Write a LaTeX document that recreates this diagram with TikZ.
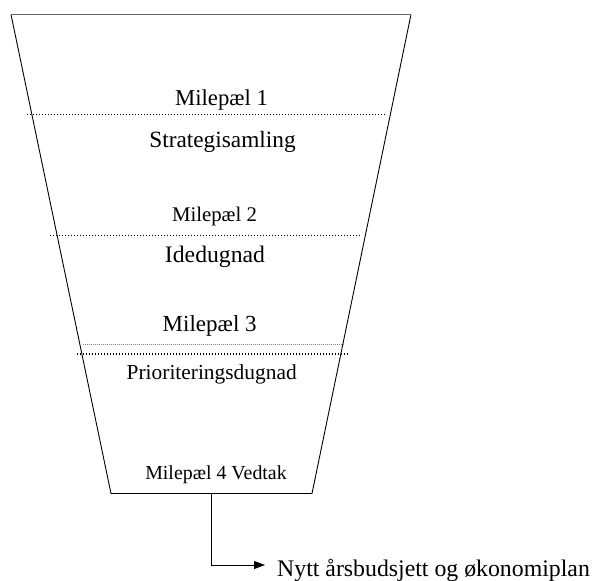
\documentclass[tikz,border=0pt]{standalone}
\usepackage{fontspec}
\setmainfont{Liberation Serif}
\usetikzlibrary{arrows.meta}
\tikzset{
  funnel/.style={line width=0.9pt, black},
  toprim/.style={line width=1.4pt, black!60},
  dotline/.style={line width=1.3pt, dash pattern=on 1.2pt off 1.8pt, black},
  finedot/.style={line width=0.6pt, dash pattern=on 0.8pt off 1.2pt, black!50},
  lbl/.style={anchor=base, inner sep=0pt},
  conn/.style={line width=0.9pt, -{Triangle[length=11pt,width=8pt]}}
}
\newcommand{\fs}[1]{\fontsize{#1}{#1}\selectfont}
\begin{document}
\begin{tikzpicture}[x=1pt,y=-1pt]
\useasboundingbox (0,0) rectangle (595,581);
% funnel corners
\coordinate (tl) at (11,14.5);
\coordinate (tr) at (411,14.5);
\coordinate (bl) at (111,493.5);
\coordinate (br) at (312,493.5);
\draw[funnel] (tr) -- (br) -- (bl) -- (tl);
\draw[toprim] (tl) -- (tr);
% dotted separators
\coordinate (d1a) at (27,114.5);   \coordinate (d1b) at (386,114.5);
\coordinate (d2a) at (50,235.7);   \coordinate (d2b) at (361.7,235.7);
\coordinate (d3a) at (83,344.3);   \coordinate (d3b) at (345,344.3);
\coordinate (d4a) at (76.7,354);   \coordinate (d4b) at (348,354);
\draw[dotline] (d1a) -- (d1b);
\draw[dotline] (d2a) -- (d2b);
\draw[finedot] (d3a) -- (d3b);
\draw[dotline] (d4a) -- (d4b);
% labels
\node[lbl, font=\fs{22.7}] (m1) at (221.5,105) {Milepæl 1};
\node[lbl, font=\fs{23.3}] (s1) at (222.5,147) {Strategisamling};
\node[lbl, font=\fs{20.8}] (m2) at (214.5,221) {Milepæl 2};
\node[lbl, font=\fs{23.7}] (s2) at (215,262.5) {Idedugnad};
\node[lbl, font=\fs{23}] (m3) at (209.7,331.7) {Milepæl 3};
\node[lbl, font=\fs{21.4}] (s3) at (211.7,379) {Prioriteringsdugnad};
\node[lbl, font=\fs{19.9}] (m4) at (216,479.3) {Milepæl 4 Vedtak};
% output
\node[anchor=base west, inner sep=0pt, font=\fs{23.8}] (out) at (277,576) {Nytt årsbudsjett og økonomiplan};
\coordinate (start) at (211.7,493.5);
\coordinate (corner) at (211.7,565);
\coordinate (tip) at (265,565);
\draw[conn] (start) -- (corner) -- (tip);
\end{tikzpicture}
\end{document}
